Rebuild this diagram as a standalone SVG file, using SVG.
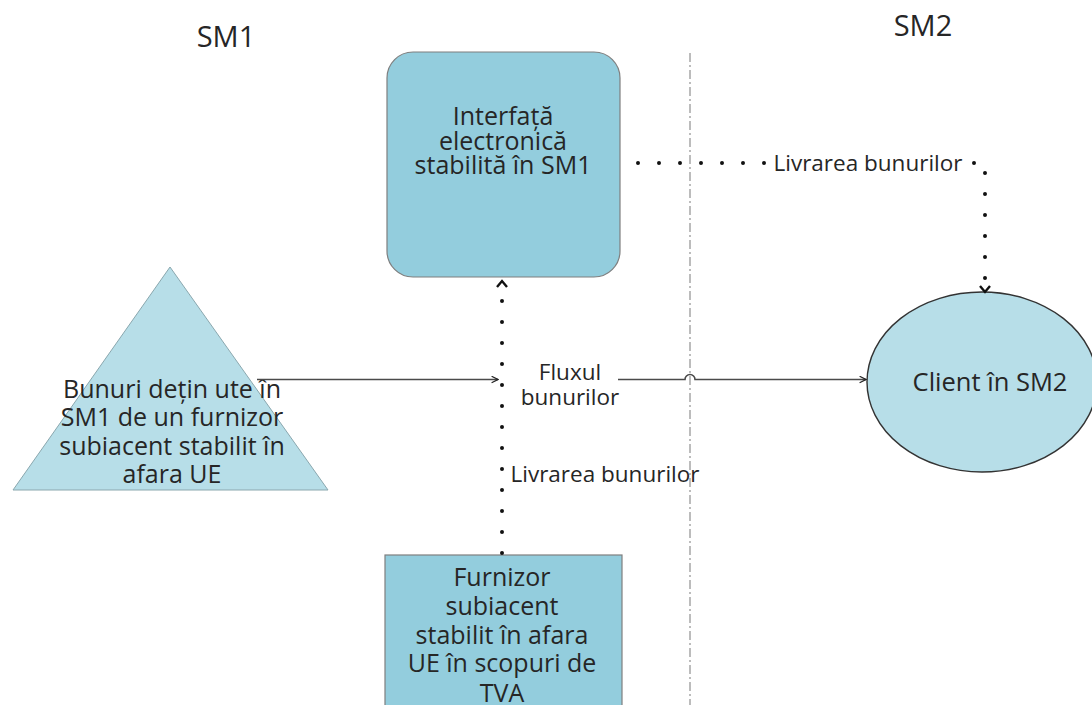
<svg xmlns="http://www.w3.org/2000/svg" width="1092" height="705" viewBox="0 0 1092 705">
  <defs>
    <style>
      .lbl { font-family: "Open Sans", "Noto Sans", "DejaVu Sans", sans-serif; fill: #262626; text-anchor: middle; }
      .head { font-size: 29px; }
      .big { font-size: 25px; }
      .small { font-size: 22.5px; }
      .box { fill: #93cddd; stroke: #7f7f7f; stroke-width: 1.2; }
      .pale { fill: #b7dee8; }
      .flow { fill: none; stroke: #4a4a4a; stroke-width: 1.6; }
      .dots { fill: none; stroke: #111; stroke-width: 4; stroke-linecap: round; stroke-dasharray: 0 21; }
      .border { fill: none; stroke: #a6a6a6; stroke-width: 1.5; stroke-dasharray: 9 3 2 3; }
    </style>
    <marker id="arrowOpen" viewBox="0 0 10 10" refX="9" refY="5" markerWidth="8" markerHeight="8" orient="auto" markerUnits="userSpaceOnUse">
      <path d="M1,1 L9,5 L1,9" fill="none" stroke="#222" stroke-width="1.6"/>
    </marker>
  </defs>

  <rect width="1092" height="705" fill="#ffffff"/>

  <!-- member state headings -->
  <text class="lbl head" x="226" y="47">SM1</text>
  <text class="lbl head" x="923" y="36">SM2</text>

  <!-- border between the two member states -->
  <line class="border" x1="690" y1="53" x2="690" y2="705"/>

  <g id="interface">
    <rect class="box" x="387" y="52" width="233" height="225" rx="26" ry="26"/>
    <text class="lbl big" x="503" y="125">Interfață</text>
    <text class="lbl big" x="503" y="150">electronică</text>
    <text class="lbl big" x="503" y="174">stabilită în SM1</text>
  </g>

  <g id="goods">
    <polygon class="pale" points="170,267 328,490 13,490" stroke="#8aa7ae" stroke-width="1"/>
    <text class="lbl big" x="172" y="398">Bunuri dețin ute în</text>
    <text class="lbl big" x="172" y="426">SM1 de un furnizor</text>
    <text class="lbl big" x="172" y="455">subiacent stabilit în</text>
    <text class="lbl big" x="172" y="483">afara UE</text>
  </g>

  <g id="supplier">
    <rect class="box" x="385" y="555" width="237" height="160"/>
    <text class="lbl big" x="502" y="586">Furnizor</text>
    <text class="lbl big" x="502" y="615">subiacent</text>
    <text class="lbl big" x="502" y="644">stabilit în afara</text>
    <text class="lbl big" x="502" y="672">UE în scopuri de</text>
    <text class="lbl big" x="502" y="702">TVA</text>
  </g>

  <g id="client">
    <ellipse class="pale" cx="982" cy="382" rx="115" ry="90" stroke="#333" stroke-width="1.4"/>
    <text class="lbl big" x="990" y="391" style="font-size:25.5px">Client în SM2</text>
  </g>

  <g id="connectors">
    <!-- flow of goods -->
    <path class="flow" d="M257,379.5 L498,379.5" marker-end="url(#arrowOpen)"/>
    <path class="flow" d="M618,379.5 L685,379.5 A5,5 0 0 1 695,379.5 L866,379.5" marker-end="url(#arrowOpen)"/>
    <!-- supply from the underlying supplier to the interface -->
    <path class="dots" d="M502,553 L502,290"/>
    <path d="M497,287 L502,281 L507,287" fill="none" stroke="#111" stroke-width="2.4"/>
    <!-- supply from the interface to the client -->
    <path class="dots" d="M638,163 L985,163 L985,283"/>
    <path d="M980,286 L985,292 L990,286" fill="none" stroke="#111" stroke-width="2.4"/>
  </g>

  <!-- connector labels -->
  <g id="labels">
    <rect x="779" y="150" width="180" height="28" fill="#ffffff"/>
    <text class="lbl small" x="868" y="171">Livrarea bunurilor</text>
    <text class="lbl small" x="570" y="380">Fluxul</text>
    <text class="lbl small" x="570" y="405">bunurilor</text>
    <text class="lbl small" x="605" y="482">Livrarea bunurilor</text>
  </g>
</svg>
